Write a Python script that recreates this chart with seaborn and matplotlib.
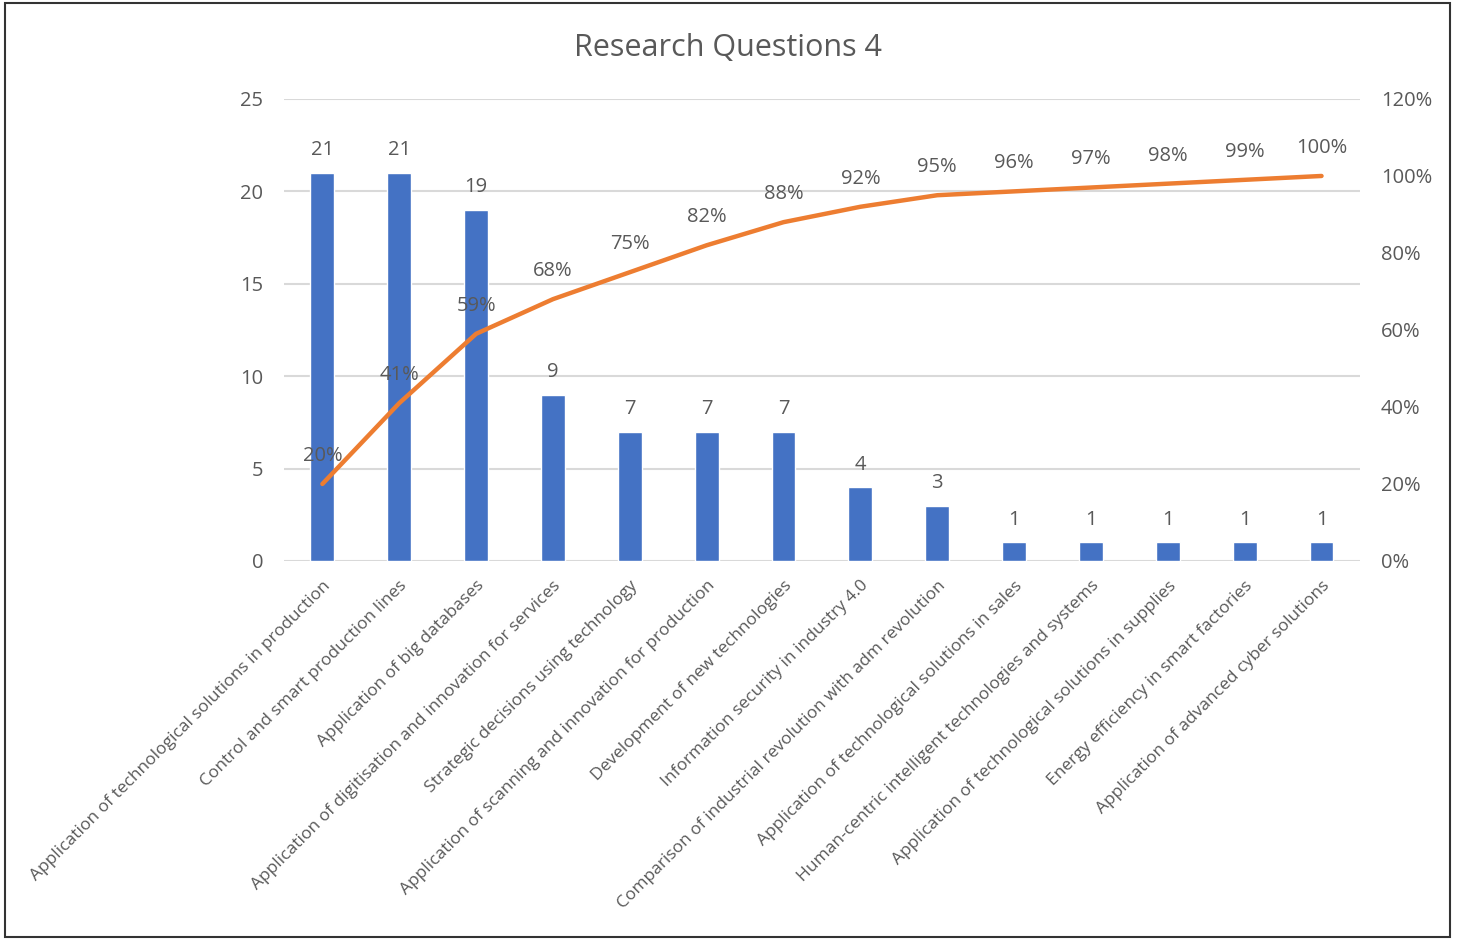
import numpy as np
import pandas as pd
import matplotlib
matplotlib.use("Agg")
import matplotlib.pyplot as plt
import seaborn as sns
from matplotlib.patches import Rectangle

topics = [
    "Application of technological solutions in production",
    "Control and smart production lines",
    "Application of big databases",
    "Application of digitisation and innovation for services",
    "Strategic decisions using technology",
    "Application of scanning and innovation for production",
    "Development of new technologies",
    "Information security in industry 4.0",
    "Comparison of industrial revolution with adm revolution",
    "Application of technological solutions in sales",
    "Human-centric intelligent technologies and systems",
    "Application of technological solutions in supplies",
    "Energy efficiency in smart factories",
    "Application of advanced cyber solutions",
]
counts = [21, 21, 19, 9, 7, 7, 7, 4, 3, 1, 1, 1, 1, 1]
cumulative_pct = [20, 41, 59, 68, 75, 82, 88, 92, 95, 96, 97, 98, 99, 100]
left_ticks = [0, 5, 10, 15, 20, 25]
right_ticks = [0, 20, 40, 60, 80, 100, 120]
title = "Research Questions 4"

BAR = "#4472C4"
LINE = "#ED7D31"
TEXT = "#595959"
GRID = "#D9D9D9"

sns.set_theme(style="white")
plt.rcParams["font.family"] = ["Open Sans", "DejaVu Sans"]

df = pd.DataFrame({"topic": topics, "count": counts, "cum": cumulative_pct})
pos = np.arange(len(topics))

fig = plt.figure(figsize=(14.57, 9.39), dpi=100)
ax = fig.add_axes([0.1949, 0.4026, 0.7385, 0.4920])

sns.barplot(data=df, x="topic", y="count", color=BAR, width=0.31,
            saturation=1, ax=ax, zorder=3)
ax.set_xlim(-0.5, len(topics) - 0.5)
ax.set_ylim(0, 25)
ax.set_yticks(left_ticks)
ax.yaxis.grid(True, color=GRID, linewidth=1.5, zorder=0)
ax.set_axisbelow(True)
for s in ax.spines.values():
    s.set_visible(False)
ax.tick_params(axis="y", length=0, pad=15, labelsize=14.5, labelcolor=TEXT)
ax.tick_params(axis="x", length=0, pad=12)
ax.set_xticks(pos)
ax.set_xticklabels(topics, rotation=45, ha="right", rotation_mode="anchor",
                   fontsize=12.5, color=TEXT)
ax.set_xlabel("")
ax.set_ylabel("")

for x, v in zip(pos, counts):
    ax.annotate(f"{v}", (x, v), xytext=(0, 9), textcoords="offset points",
                ha="center", va="bottom", fontsize=14.5, color=TEXT)

ax2 = ax.twinx()
sns.lineplot(x=pos, y=cumulative_pct, color=LINE, linewidth=3.2, ax=ax2,
             solid_capstyle="round", solid_joinstyle="round", zorder=4)
ax2.set_xlim(-0.5, len(topics) - 0.5)
ax2.set_ylim(0, 120)
ax2.set_yticks(right_ticks)
ax2.set_yticklabels([f"{t}%" for t in right_ticks])
ax2.tick_params(axis="y", length=0, pad=15, labelsize=14.5, labelcolor=TEXT)
for s in ax2.spines.values():
    s.set_visible(False)
ax2.grid(False)

for x, v in zip(pos, cumulative_pct):
    ax2.annotate(f"{v}%", (x, v), xytext=(0, 13), textcoords="offset points",
                 ha="center", va="bottom", fontsize=14.5, color=TEXT)

fig.text(0.4995, 0.949, title, ha="center", va="center", fontsize=22, color=TEXT)

fig.patches.append(Rectangle((0.0035, 0.002), 0.9915, 0.995, transform=fig.transFigure,
                             fill=False, edgecolor="#333333", linewidth=1.5))

fig.savefig("out.png", dpi=100)
